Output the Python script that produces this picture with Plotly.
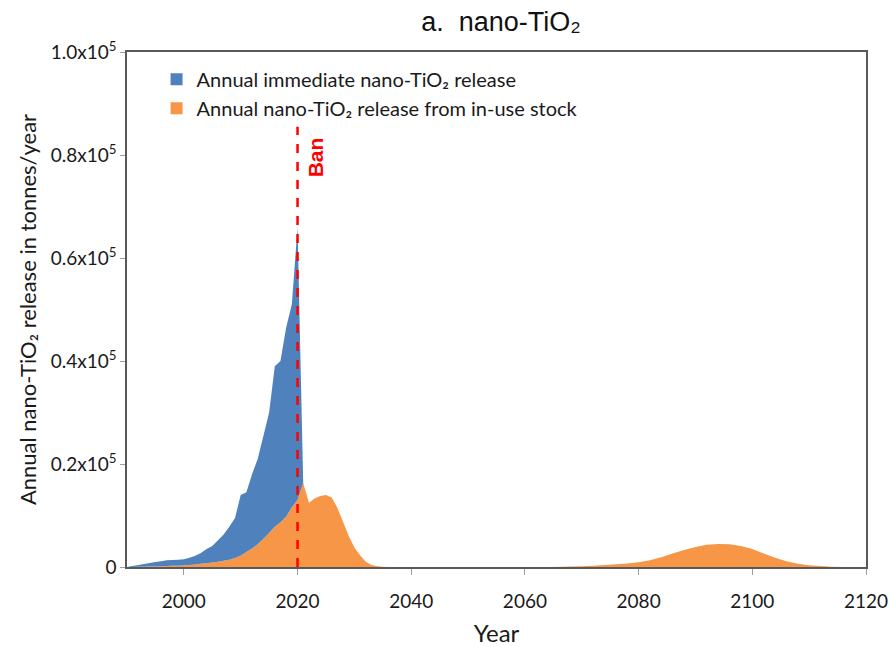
import plotly.graph_objects as go

# ---- data (tonnes/year) ----
years = [1990, 1991, 1992, 1993, 1994, 1995, 1996, 1997, 1998, 1999,
         2000, 2001, 2002, 2003, 2004, 2005, 2006, 2007, 2008, 2009,
         2010, 2011, 2012, 2013, 2014, 2015, 2016, 2017, 2018, 2019,
         2020, 2021, 2022, 2023, 2024, 2025, 2026, 2027, 2028, 2029,
         2030, 2031, 2032, 2033, 2034, 2035, 2036, 2040, 2050, 2060,
         2065, 2068, 2070, 2072, 2074, 2076, 2078, 2080, 2082, 2084,
         2086, 2088, 2090, 2092, 2094, 2096, 2098, 2100, 2102, 2104,
         2106, 2108, 2110, 2112, 2114, 2116, 2118, 2120]

immediate_release = [0, 180, 360, 540, 720, 850, 960, 1120, 1130, 1140,
                     1200, 1400, 1700, 2080, 2750, 3230, 4200, 5100, 6400, 7750,
                     11800, 11600, 14400, 16600, 20000, 23400, 31200, 31300, 36700, 39400,
                     53000, 0, 0, 0, 0, 0, 0, 0, 0, 0,
                     0, 0, 0, 0, 0, 0, 0, 0, 0, 0,
                     0, 0, 0, 0, 0, 0, 0, 0, 0, 0,
                     0, 0, 0, 0, 0, 0, 0, 0, 0, 0,
                     0, 0, 0, 0, 0, 0, 0, 0]

stock_release = [0, 20, 40, 60, 80, 100, 140, 180, 220, 260,
                 300, 400, 500, 620, 750, 870, 1000, 1200, 1400, 1750,
                 2200, 2900, 3600, 4400, 5500, 6600, 7800, 8700, 9800, 11600,
                 13000, 16300, 12500, 13300, 13800, 14000, 13500, 11500, 8800, 6000,
                 3800, 2300, 1000, 400, 150, 50, 10, 0, 0, 0,
                 20, 80, 150, 250, 380, 520, 680, 900, 1300, 1900,
                 2600, 3300, 3900, 4300, 4450, 4400, 4100, 3500, 2600, 1800,
                 1100, 650, 350, 170, 70, 20, 0, 0]

y_tickvals = [0, 20000, 40000, 60000, 80000, 100000]
y_ticktext = ["0", "0.2x10<sup>5</sup>", "0.4x10<sup>5</sup>", "0.6x10<sup>5</sup>",
              "0.8x10<sup>5</sup>", "1.0x10<sup>5</sup>"]
x_tickvals = [2000, 2020, 2040, 2060, 2080, 2100, 2120]

ban_year = 2020
ban_line_top = 85500

BLUE = "#4F81BD"
ORANGE = "#F79646"
AXIS = "#595959"
FONT = "Lato, 'Open Sans', sans-serif"
TXT = "#1a1a1a"

fig = go.Figure()

fig.add_trace(go.Scatter(x=years, y=stock_release, stackgroup="one", mode="none",
                         fillcolor=ORANGE, line=dict(width=0), showlegend=False,
                         hoverinfo="skip"))
fig.add_trace(go.Scatter(x=years, y=immediate_release, stackgroup="one", mode="none",
                         fillcolor=BLUE, line=dict(width=0), showlegend=False,
                         hoverinfo="skip"))

# legend entries (square markers)
fig.add_trace(go.Scatter(x=[None], y=[None], mode="markers",
                         marker=dict(symbol="square", size=13, color=BLUE),
                         name="Annual immediate nano-TiO\u2082 release"))
fig.add_trace(go.Scatter(x=[None], y=[None], mode="markers",
                         marker=dict(symbol="square", size=13, color=ORANGE),
                         name="Annual nano-TiO\u2082 release from in-use stock"))

fig.add_shape(type="line", x0=ban_year, x1=ban_year, y0=0, y1=ban_line_top,
              xref="x", yref="y", line=dict(color="#FF0000", width=2.5, dash="dash"),
              layer="above")
fig.add_annotation(x=2023.2, y=79500, xref="x", yref="y", text="<b>Ban</b>",
                   textangle=-90, showarrow=False,
                   font=dict(color="#FF0000", size=21, family="Liberation Sans, Arial, sans-serif"))

fig.update_layout(
    width=891, height=647,
    margin=dict(l=127, r=25, t=52, b=80, autoexpand=False),
    paper_bgcolor="white", plot_bgcolor="white",
    title=dict(text="a.\u00a0\u00a0nano-TiO\u2082", x=501 / 891, xref="container", xanchor="center",
               y=1 - 22 / 647, yref="container", yanchor="middle",
               font=dict(family="Liberation Sans, Arial, sans-serif", size=27, color="#111111")),
    legend=dict(x=0.04, y=0.985, xanchor="left", yanchor="top", traceorder="normal",
                bgcolor="rgba(0,0,0,0)", font=dict(family=FONT, size=20, color=TXT),
                itemsizing="constant", tracegroupgap=0),
    font=dict(family=FONT, color=TXT),
    showlegend=True,
)

fig.update_xaxes(range=[1990, 2120], tickvals=x_tickvals, showgrid=False, zeroline=False,
                 automargin=False,
                 showline=True, linecolor=AXIS, linewidth=1.5, mirror=True,
                 ticks="outside", ticklen=6, tickcolor="#A0A0A0", ticklabelstandoff=10,
                 tickfont=dict(family=FONT, size=19, color=TXT),
                 title=dict(text="Year", font=dict(family=FONT, size=24, color=TXT),
                            standoff=22))
fig.update_yaxes(range=[0, 100000], tickvals=y_tickvals, ticktext=y_ticktext,
                 showgrid=False, zeroline=False, automargin=False,
                 showline=True, linecolor=AXIS, linewidth=1.5, mirror=True,
                 ticks="outside", ticklen=5, tickcolor="#A0A0A0",
                 tickfont=dict(family=FONT, size=19, color=TXT),
                 title=dict(text="Annual nano-TiO\u2082 release in tonnes/year",
                            font=dict(family=FONT, size=22, color=TXT), standoff=8))

fig.write_html("out.html")
